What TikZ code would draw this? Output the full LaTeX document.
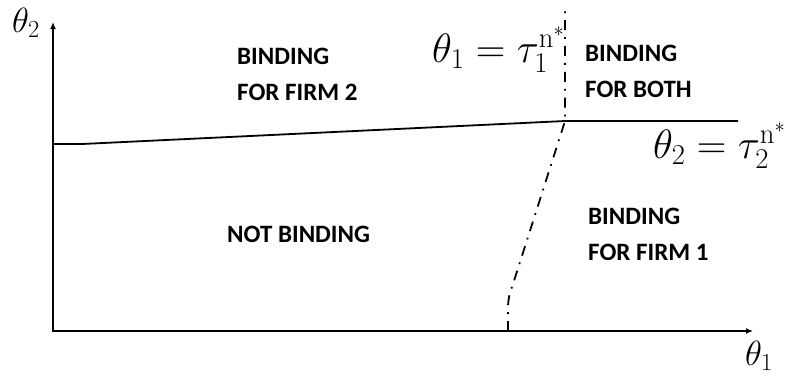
\RequirePackage{fix-cm}
\documentclass[tikz,border=0pt]{standalone}
\usepackage{amsmath}
\usepackage{fontspec}
\newfontfamily\regionfont{Carlito}
\usepackage{tikz}
\usetikzlibrary{arrows.meta, positioning}

\tikzset{
    region/.style={anchor=north west, inner sep=0pt, align=left,
        font=\regionfont\bfseries\fontsize{25}{36}\selectfont},
    axislabel/.style={anchor=base west, inner sep=0pt, font=\fontsize{35}{42}\selectfont},
    eqlabel/.style={anchor=base west, inner sep=0pt, font=\fontsize{41}{49}\selectfont},
    dashdot/.style={line width=1.8pt, dash pattern=on 10pt off 7pt on 1.8pt off 7pt}
}

\begin{document}
\begin{tikzpicture}[x=1pt, y=-1pt]
    \useasboundingbox (0,0) rectangle (792,378);

    % Axes
    \coordinate (origin) at (53,331);
    \coordinate (ytop) at (53,22);
    \coordinate (xend) at (753,331);
    \draw[line width=1.3pt, {Latex[length=7pt,width=6pt]}-{Latex[length=7pt,width=6pt]}]
        (ytop) -- (origin) -- (xend);
    \node[axislabel] (th2) at (12,32) {$\theta_2$};
    \node[axislabel] (th1) at (745,365) {$\theta_1$};

    % Boundary for firm 2
    \coordinate (left) at (53,144);
    \coordinate (bend) at (82,144);
    \coordinate (meet) at (565,121);
    \coordinate (right) at (738,121);
    \draw[line width=1.8pt] (left) -- (bend) -- (meet) -- (right);

    % Boundary for firm 1
    \coordinate (foot) at (508,331);
    \coordinate (top) at (565,8);
    \draw[dashdot] (foot) -- (508,309) .. controls (508,298) and (510,292) .. (513,284)
        -- (meet) -- (top);

    % Curve labels
    \node[eqlabel] (tau1) at (432,62) {$\theta_1 = \tau_1^{\mathrm{n}^*}$};
    \node[eqlabel] (tau2) at (653,158) {$\theta_2 = \tau_2^{\mathrm{n}^*}$};

    % Regions
    \node[region] (firm2) at (237,48) {BINDING\\FOR FIRM 2};
    \node[region] (both) at (585,45) {BINDING\\FOR BOTH};
    \node[region] (none) at (227,226) {NOT BINDING};
    \node[region] (firm1) at (588,208) {BINDING\\FOR FIRM 1};

\end{tikzpicture}
\end{document}
